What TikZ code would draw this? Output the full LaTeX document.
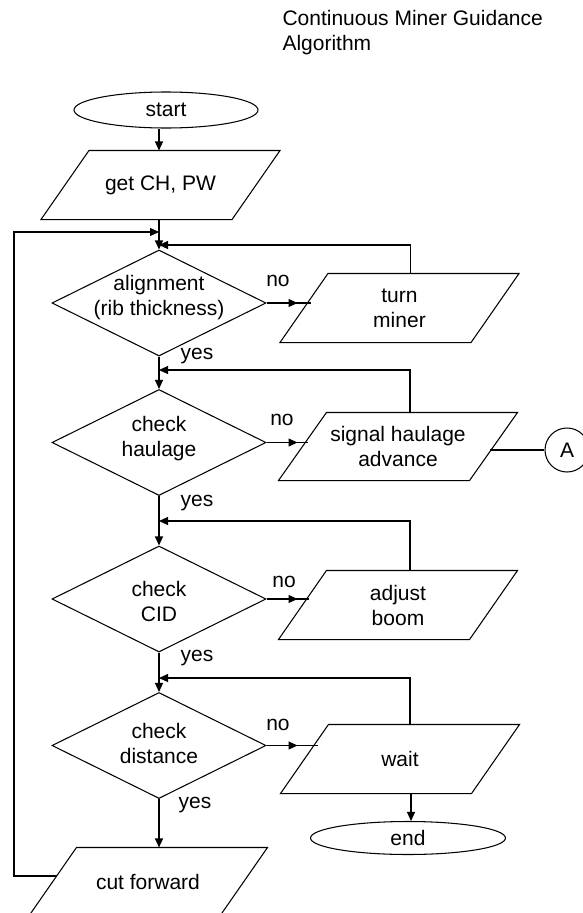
\documentclass[tikz,border=0pt]{standalone}
\usepackage{fontspec}
\setmainfont{Liberation Sans}
\usetikzlibrary{shapes.geometric,arrows.meta,decorations.markings,calc}
\newcommand\paral[1]{\draw (#1.north west) -- ([xshift=48pt]#1.north east) -- (#1.south east) -- ([xshift=-48pt]#1.south west) -- cycle;}
\begin{document}
\begin{tikzpicture}[x=1pt,y=-1pt,
  line width=1.05pt,
  font=\fontsize{21}{25}\selectfont,
  arr/.style={-{Triangle[length=9pt,width=8pt]}},
  midarr/.style={postaction={decorate},decoration={markings,mark=at position 31pt with {\arrow{Triangle[length=9pt,width=8pt]}}}},
  term/.style={ellipse,draw,inner sep=0pt},
  pbox/.style={rectangle,minimum width=142pt,minimum height=68pt,inner sep=0pt,align=center},
  dbox/.style={diamond,draw,minimum width=214pt,minimum height=106pt,inner sep=0pt},
  dtext/.style={align=center,inner sep=0pt},
  lbl/.style={inner sep=0pt}
]
\useasboundingbox (0,0) rectangle (583,913);

% title
\node[anchor=west,align=left,inner sep=0pt] (title) at (282,33) {Continuous Miner Guidance\\Algorithm};

% nodes
\node[term,minimum width=184pt,minimum height=36pt] (start) at (166,110) {start};
\node[pbox] (get) at (160.5,185) {get CH, PW};
\node[dbox] (align) at (159,303) {};
\node[dtext] (alignT) at (159,298) {alignment\\(rib thickness)};
\node[pbox] (turn) at (399.5,308) {turn\\miner};
\node[dbox] (haul) at (159,442.5) {};
\node[dtext] (haulT) at (159,439) {check\\haulage};
\node[pbox,minimum height=67pt] (signal) at (398,446.5) {signal haulage\\advance};
\node[circle,draw,minimum size=44pt,inner sep=0pt] (A) at (567,450) {A};
\node[dbox] (cid) at (159,599) {};
\node[dtext] (cidT) at (159,601) {check\\CID};
\node[pbox] (adjust) at (398,605) {adjust\\boom};
\node[dbox] (dist) at (159,745.5) {};
\node[dtext] (distT) at (159,743) {check\\distance};
\node[pbox] (wait) at (400,759) {wait};
\node[term,minimum width=195pt,minimum height=33pt] (end) at (408,838) {end};
\node[pbox] (cut) at (148,882) {cut forward};

\paral{get}
\paral{turn}
\paral{signal}
\paral{adjust}
\paral{wait}
\paral{cut}

% labels
\node[lbl] (no1) at (278,281) {no};
\node[lbl] (no2) at (282,420) {no};
\node[lbl] (no3) at (284,582) {no};
\node[lbl] (no4) at (278,725) {no};
\node[lbl] (yes1) at (197,356) {yes};
\node[lbl] (yes2) at (197,503) {yes};
\node[lbl] (yes3) at (197,658) {yes};
\node[lbl] (yes4) at (195,805) {yes};

% coordinates
\coordinate (turnL) at (311,303);
\coordinate (sigL) at (308,442.5);
\coordinate (sigR) at (490,450);
\coordinate (adjL) at (309,599);
\coordinate (waitL) at (317.5,745.5);
\coordinate (fb1) at (159,245);
\coordinate (fb2) at (159,370);
\coordinate (fb3) at (159,521);
\coordinate (fb4) at (159,678);
\coordinate (cutL) at (57,876);
\coordinate (lx) at (14,232);
\coordinate (loopin) at (159,232);

% main axis
\draw[arr] (start.south -| align.north) -- (align.north |- get.north);
\draw[arr] (align.north |- get.south) -- (align.north);
\draw[arr] (align.south) -- (haul.north);
\draw[arr] (haul.south) -- (cid.north);
\draw[arr] (cid.south) -- (dist.north);
\draw[arr] (dist.south) -- (dist.south |- cut.north);

% no branches
\draw[midarr] (align.east) -- (turnL);
\draw[midarr] (haul.east) -- (sigL);
\draw[midarr] (cid.east) -- (adjL);
\draw[midarr] (dist.east) -- (waitL);

% feedback
\draw[arr] ([xshift=11pt]turn.north) |- (fb1);
\draw[arr] ([xshift=12pt]signal.north) |- (fb2);
\draw[arr] ([xshift=12pt]adjust.north) |- (fb3);
\draw[arr] ([xshift=10pt]wait.north) |- (fb4);

% A connector
\draw (sigR) -- (A.west);

% wait -> end
\draw[arr] ([xshift=11pt]wait.south) -- ([xshift=11pt]wait.south |- end.north);

% big loop
\draw[arr] (cutL) -| (lx) -- (loopin);
\end{tikzpicture}
\end{document}
